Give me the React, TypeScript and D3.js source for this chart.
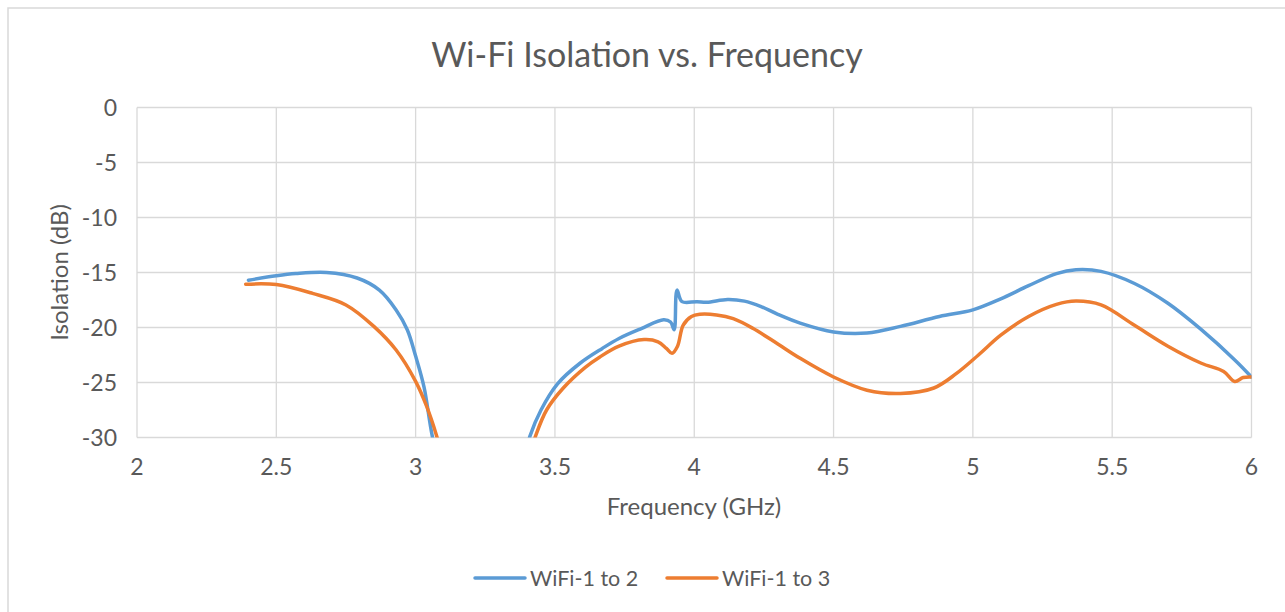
import React from 'react';
import * as d3 from 'd3';

// WiFi-1 to 2
const freq12 = [2.40, 2.50, 2.57, 2.68, 2.79, 2.87, 2.93, 2.97, 3.00, 3.03, 3.06, 3.10, 3.37, 3.41, 3.45, 3.51, 3.59, 3.67, 3.73, 3.81, 3.89, 3.915, 3.928, 3.938, 3.956, 4.01, 4.045, 4.12, 4.18, 4.24, 4.30, 4.38, 4.50, 4.62, 4.74, 4.88, 5.00, 5.10, 5.20, 5.30, 5.37, 5.46, 5.58, 5.70, 5.82, 5.94, 6.00];
const iso12 = [-15.7, -15.3, -15.1, -15.0, -15.5, -16.6, -18.4, -20.2, -22.6, -25.4, -29.9, -34, -34, -29.9, -27.5, -25.1, -23.25, -21.9, -21.0, -20.1, -19.3, -19.5, -20.2, -16.6, -17.65, -17.65, -17.7, -17.45, -17.6, -18.1, -18.8, -19.6, -20.4, -20.5, -19.9, -19.0, -18.4, -17.4, -16.2, -15.1, -14.75, -14.9, -16.0, -17.8, -20.2, -22.95, -24.5];

// WiFi-1 to 3
const freq13 = [2.39, 2.50, 2.63, 2.75, 2.85, 2.93, 3.00, 3.04, 3.076, 3.12, 3.38, 3.43, 3.47, 3.53, 3.61, 3.66, 3.73, 3.82, 3.87, 3.90, 3.92, 3.94, 3.96, 3.99, 4.02, 4.08, 4.14, 4.21, 4.30, 4.38, 4.50, 4.62, 4.74, 4.86, 4.94, 5.02, 5.10, 5.20, 5.30, 5.37, 5.46, 5.58, 5.70, 5.82, 5.90, 5.94, 5.97, 6.00];
const iso13 = [-16.07, -16.1, -16.9, -17.95, -19.9, -22.05, -24.9, -27.2, -29.9, -34, -34, -29.9, -27.5, -25.5, -23.6, -22.7, -21.7, -21.1, -21.3, -21.9, -22.35, -21.7, -19.8, -19.0, -18.8, -18.86, -19.2, -20.07, -21.5, -22.8, -24.5, -25.7, -26.0, -25.5, -24.2, -22.5, -20.7, -19.0, -17.9, -17.6, -17.95, -19.8, -21.7, -23.25, -24.0, -24.9, -24.55, -24.5];

const xTicks = [2, 2.5, 3, 3.5, 4, 4.5, 5, 5.5, 6];
const yTicks = [0, -5, -10, -15, -20, -25, -30];

const seriesNames = ['WiFi-1 to 2', 'WiFi-1 to 3'];
const seriesColors = ['#5B9BD5', '#ED7D31'];

const FONT = 'Lato, "Open Sans", sans-serif';
const TEXT = '#595959';
const GRID = '#d9d9d9';

export default function App() {
  const left = 137, right = 1251.5, top = 107.5, bottom = 437.5;

  const x = d3.scaleLinear().domain([2, 6]).range([left, right]);
  const y = d3.scaleLinear().domain([-30, 0]).range([bottom, top]);

  const line = d3.line<[number, number]>()
    .x(d => x(d[0]))
    .y(d => y(d[1]))
    .curve(d3.curveCatmullRom.alpha(0.5));

  const series = [
    freq12.map((f, i) => [f, iso12[i]] as [number, number]),
    freq13.map((f, i) => [f, iso13[i]] as [number, number]),
  ];

  return (
    <svg width={1285} height={612} style={{ position: 'absolute', left: 0, top: 0, background: '#fff' }}>
      <rect x={8} y={8} width={1400} height={700} fill="#fff" stroke={GRID} strokeWidth={1.5} />
      <text x={647} y={67} textAnchor="middle" fontFamily={FONT} fontSize={34} fill={TEXT}>
        Wi-Fi Isolation vs. Frequency
      </text>

      <defs>
        <clipPath id="plot">
          <rect x={left} y={top} width={right - left} height={bottom - top} />
        </clipPath>
      </defs>

      {yTicks.map(t => (
        <g key={'y' + t}>
          <line x1={left} x2={right} y1={y(t)} y2={y(t)} stroke={GRID} strokeWidth={1.3} />
          <text x={117} y={y(t)} dy="0.35em" textAnchor="end" fontFamily={FONT} fontSize={23} fill={TEXT}>{t}</text>
        </g>
      ))}
      {xTicks.map(t => (
        <g key={'x' + t}>
          <line x1={x(t)} x2={x(t)} y1={top} y2={bottom} stroke={GRID} strokeWidth={1.3} />
          <text x={x(t)} y={467} dy="0.35em" textAnchor="middle" fontFamily={FONT} fontSize={23} fill={TEXT}>{t}</text>
        </g>
      ))}

      <g clipPath="url(#plot)">
        {series.map((s, i) => (
          <path key={i} d={line(s) || ''} fill="none" stroke={seriesColors[i]} strokeWidth={3.5} strokeLinejoin="round" strokeLinecap="round" />
        ))}
      </g>

      <text x={694} y={507} dy="0.35em" textAnchor="middle" fontFamily={FONT} fontSize={24} fill={TEXT}>Frequency (GHz)</text>
      <text transform={`translate(60,${(top + bottom) / 2}) rotate(-90)`} dy="0.35em" textAnchor="middle" fontFamily={FONT} fontSize={24} fill={TEXT}>Isolation (dB)</text>

      {seriesNames.map((n, i) => {
        const lx = i === 0 ? 475 : 667;
        return (
          <g key={n}>
            <line x1={lx} x2={lx + 50} y1={578} y2={578} stroke={seriesColors[i]} strokeWidth={3.5} strokeLinecap="round" />
            <text x={lx + 55} y={578} dy="0.35em" fontFamily={FONT} fontSize={21.5} fill={TEXT}>{n}</text>
          </g>
        );
      })}
    </svg>
  );
}
